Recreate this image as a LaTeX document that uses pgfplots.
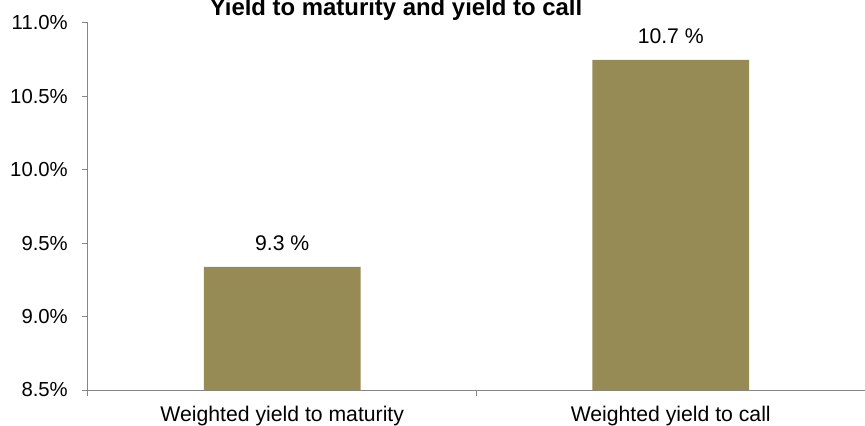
\documentclass[border=0pt]{standalone}
\usepackage{pgfplots}
\pgfplotsset{compat=1.18}
\usepackage{fontspec}
\setmainfont{Liberation Sans}
\definecolor{barolive}{RGB}{150,139,85}
\definecolor{axisgray}{RGB}{134,134,134}
\begin{document}
\begin{tikzpicture}
\begin{axis}[
    at={(0,0)}, anchor=south west,
    scale only axis, width=777bp, height=367bp,
    xmin=-0.5, xmax=1.5, ymin=8.5, ymax=11,
    axis x line=bottom, axis y line=left,
    axis line style={-, axisgray, line width=1bp},
    /pgf/number format/assume math mode=true,
    font=\fontsize{20.3bp}{24bp}\selectfont,
    tick align=outside,
    major tick length=6bp,
    tick style={axisgray, line width=1bp},
    ytick={8.5,9,9.5,10,10.5,11},
    yticklabel={\pgfmathprintnumber[fixed,fixed zerofill,precision=1]{\tick}\%},
    yticklabel style={inner sep=0pt, xshift=-14bp},
    xtick={-0.5,0.5,1.5},
    xticklabels={},
    extra x ticks={0,1},
    extra x tick labels={Weighted yield to maturity, Weighted yield to call},
    extra x tick style={major tick length=0pt, tick style={draw=none},
        xticklabel style={inner sep=0pt, yshift=-16bp, font=\fontsize{21.2bp}{25bp}\selectfont}},
    ybar, bar width=0.404,
]
\addplot[fill=barolive, draw=none,
    nodes near coords={\pgfmathprintnumber[fixed,fixed zerofill,precision=1]{\pgfplotspointmeta} \%},
    nodes near coords style={inner sep=0pt, anchor=base, yshift=16bp, font=\fontsize{21.2bp}{25bp}\selectfont}]
    coordinates {(0,9.338) (1,10.748)};
\end{axis}
\node[anchor=base, font=\fontsize{23.9bp}{28bp}\selectfont\bfseries] at (308bp,374bp) {Yield to maturity and yield to call};
\pgfresetboundingbox
\useasboundingbox (-88bp,-36bp) rectangle (777bp,390bp);
\end{tikzpicture}
\end{document}
